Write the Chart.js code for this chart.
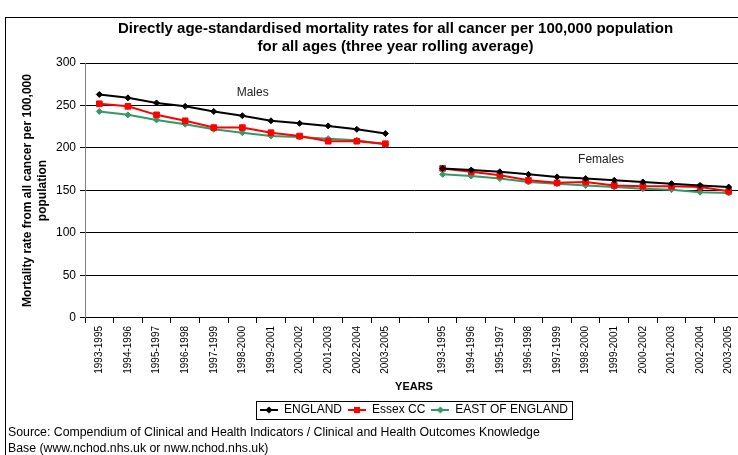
<!DOCTYPE html>
<html>
<head>
<meta charset="utf-8">
<script src="https://cdn.jsdelivr.net/npm/chart.js@4.4.0/dist/chart.umd.min.js"></script>
<style>
html, body { margin: 0; padding: 0; background: #fff; overflow: hidden; width: 738px; height: 455px; }
#frame { position: absolute; left: 5px; top: 17px; width: 820px; height: 500px; border: 1px solid #000; }
#c { position: absolute; left: 0; top: 0; }
#source { position: absolute; left: 8px; top: 424px; font: 12.3px "Liberation Sans", Arial, sans-serif; line-height: 16px; color: #000; white-space: nowrap; }
</style>
</head>
<body>
<div id="frame"></div>
<canvas id="c" width="800" height="431"></canvas>
<div id="source">Source: Compendium of Clinical and Health Indicators / Clinical and Health Outcomes Knowledge<br>Base (www.nchod.nhs.uk or nww.nchod.nhs.uk)</div>
<script>
// three year rolling periods, shown once for males and again for females
var years = ['1993-1995', '1994-1996', '1995-1997', '1996-1998', '1997-1999', '1998-2000',
             '1999-2001', '2000-2002', '2001-2003', '2002-2004', '2003-2005'];

var englandMales   = [263, 259, 253, 249, 243, 238, 232, 229, 226, 222, 217];
var essexMales     = [252, 249, 239, 232, 224, 224, 218, 214, 208, 208, 205];
var eastMales      = [243, 239, 233, 228, 222, 218, 214, 213, 211, 209, 204];

var englandFemales = [176, 174, 172, 169, 166, 164, 162, 160, 158, 156, 154];
var essexFemales   = [176, 172, 168, 162, 159, 160, 156, 155, 155, 154, 149];
var eastFemales    = [169, 167, 164, 160, 158, 156, 154, 152, 151, 148, 147];

var seriesNames = ['ENGLAND', 'Essex CC', 'EAST OF ENGLAND'];
var yTicks = [0, 50, 100, 150, 200, 250, 300];

// text labels placed in data space (category index, value)
var groupNotes = [
    { text: 'Males', at: 5.36, value: 265 },
    { text: 'Females', at: 17.54, value: 186 }
];

var FONT = '"Liberation Sans", Arial, sans-serif';

// one empty category between the male and female blocks
var labels = years.concat([''], years);
function joinSeries(m, f) { return m.concat([null], f); }

var colours = ['#000000', '#ff0000', '#339966'];
var markers = ['rectRot', 'rect', 'rectRot'];
var radii = [3, 4, 3];

function legendIcon(i) {
    var cv = document.createElement('canvas');
    cv.width = 18; cv.height = 10;
    var g = cv.getContext('2d');
    g.strokeStyle = colours[i];
    g.fillStyle = colours[i];
    g.lineWidth = 2;
    g.beginPath(); g.moveTo(0, 5); g.lineTo(18, 5); g.stroke();
    g.beginPath();
    if (markers[i] === 'rect') {
        g.rect(6, 2, 6, 6);
    } else {
        g.moveTo(9, 1.5); g.lineTo(12.5, 5); g.lineTo(9, 8.5); g.lineTo(5.5, 5); g.closePath();
    }
    g.fill();
    return cv;
}
var legendIcons = [legendIcon(0), legendIcon(1), legendIcon(2)];

var data = [
    joinSeries(englandMales, englandFemales),
    joinSeries(essexMales, essexFemales),
    joinSeries(eastMales, eastFemales)
];

var datasets = data.map(function (d, i) {
    return {
        label: seriesNames[i],
        data: d,
        borderColor: colours[i],
        backgroundColor: colours[i],
        borderWidth: 2,
        pointStyle: markers[i],
        pointRadius: radii[i],
        pointBorderWidth: 1,
        spanGaps: false,
        tension: 0,
        fill: false
    };
});

var notesPlugin = {
    id: 'notes',
    afterDatasetsDraw: function (chart) {
        var g = chart.ctx, xs = chart.scales.x, ys = chart.scales.y;
        g.save();
        g.font = '12px ' + FONT;
        g.fillStyle = '#222';
        g.textAlign = 'center';
        g.textBaseline = 'middle';
        groupNotes.forEach(function (n) {
            g.fillText(n.text, xs.getPixelForValue(n.at), ys.getPixelForValue(n.value));
        });
        g.restore();
    }
};

var legendBoxPlugin = {
    id: 'legendBox',
    afterDraw: function (chart) {
        var hb = chart.legend.legendHitBoxes;
        if (!hb || !hb.length) return;
        var l = hb[0].left, r = hb[hb.length - 1].left + hb[hb.length - 1].width;
        var t = hb[0].top, b = hb[0].top + hb[0].height;
        var g = chart.ctx;
        g.save();
        g.strokeStyle = '#000';
        g.lineWidth = 1;
        g.strokeRect(Math.round(l - 4) + 0.5, Math.round(t - 3) + 0.5, Math.round(r - l + 8), Math.round(b - t + 6));
        g.restore();
    }
};

new Chart(document.getElementById('c'), {
    type: 'line',
    data: { labels: labels, datasets: datasets },
    options: {
        responsive: false,
        animation: false,
        layout: { padding: { left: 15, right: 24, top: 20, bottom: 5 } },
        plugins: {
            title: {
                display: true,
                text: ['Directly age-standardised mortality rates for all cancer per 100,000 population',
                       'for all ages (three year rolling average)'],
                color: '#000',
                font: { family: FONT, size: 15, weight: 'bold', lineHeight: 1.2 },
                padding: { top: 0, bottom: 7 }
            },
            legend: {
                position: 'bottom',
                fullSize: false,
                labels: {
                    color: '#000',
                    font: { family: FONT, size: 12 },
                    usePointStyle: true,
                    pointStyleWidth: 18,
                    padding: 6,
                    generateLabels: function (chart) {
                        var items = Chart.defaults.plugins.legend.labels.generateLabels(chart);
                        items.forEach(function (it, i) { it.pointStyle = legendIcons[i]; });
                        return items;
                    }
                }
            },
            tooltip: { enabled: false }
        },
        scales: {
            x: {
                offset: true,
                grid: { offset: true, drawOnChartArea: false, tickLength: 5, color: '#000' },
                border: { color: '#000' },
                ticks: {
                    autoSkip: false, maxRotation: 90, minRotation: 90, padding: 3,
                    color: '#000', font: { family: FONT, size: 10 }
                },
                title: {
                    display: true, text: 'YEARS', color: '#000',
                    font: { family: FONT, size: 11, weight: 'bold' },
                    padding: { top: 4, bottom: 4 }
                }
            },
            y: {
                min: 0, max: 300,
                afterBuildTicks: function (s) { s.ticks = yTicks.map(function (v) { return { value: v }; }); },
                grid: { color: '#000', tickLength: 5 },
                border: { color: '#808080' },
                ticks: { padding: 4, color: '#000', font: { family: FONT, size: 12 } },
                title: {
                    display: true,
                    text: ['Mortality rate from all cancer per 100,000', 'population'],
                    color: '#000',
                    font: { family: FONT, size: 12, weight: 'bold', lineHeight: 1.25 },
                    padding: { top: 5, bottom: 2 }
                }
            },
            // empty spacer on the right so the title sits where the original does
            yRight: {
                position: 'right',
                display: true,
                grid: { display: false },
                border: { display: false },
                ticks: { display: false },
                afterFit: function (s) { s.width = 33; }
            }
        }
    },
    plugins: [notesPlugin, legendBoxPlugin]
});
</script>
</body>
</html>
